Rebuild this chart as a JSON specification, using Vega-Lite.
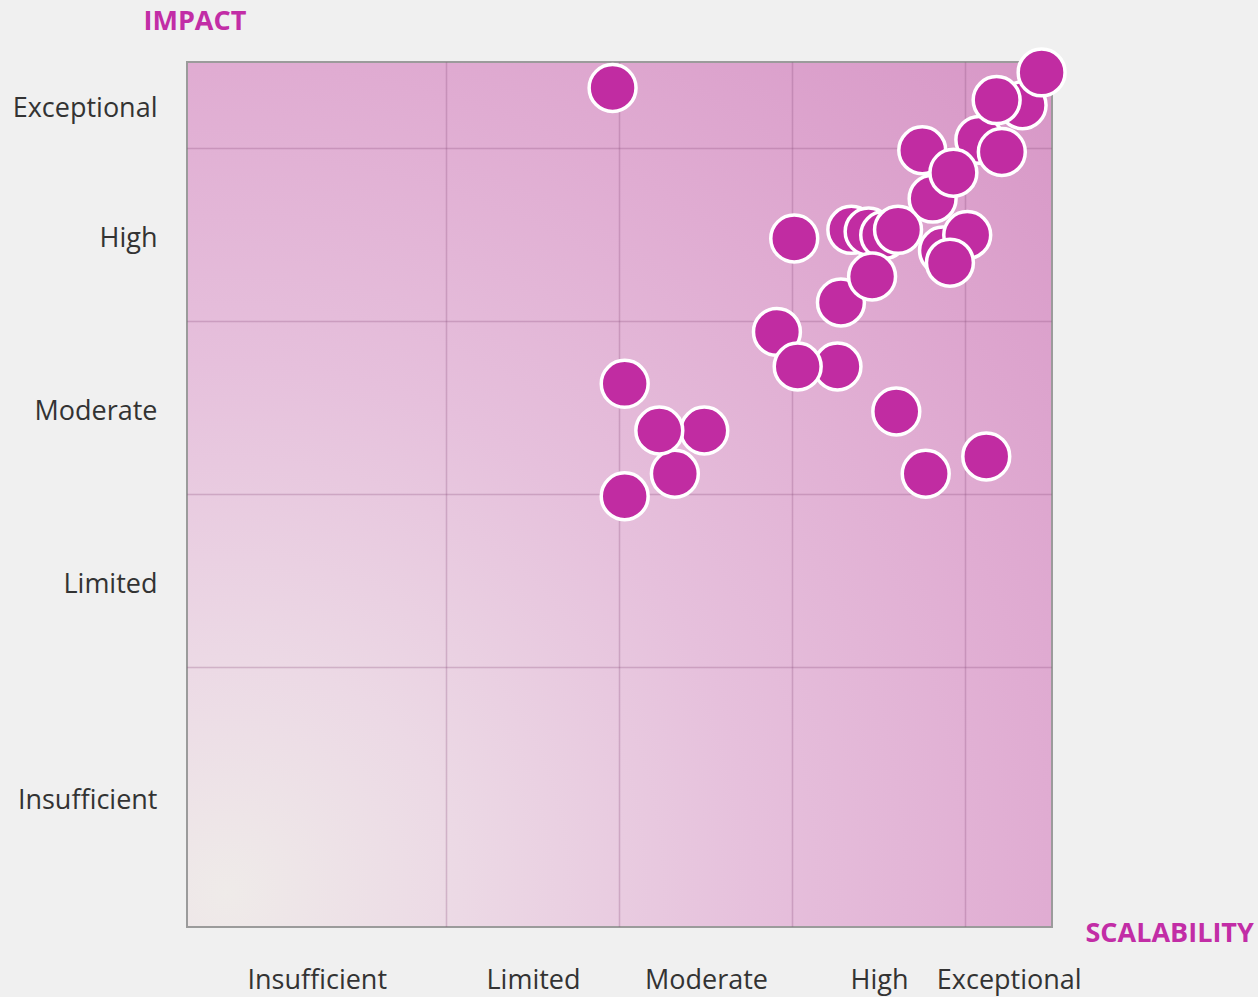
{
  "$schema": "https://vega.github.io/schema/vega-lite/v6.json",
  "width": 865,
  "height": 865,
  "autosize": "none",
  "padding": {"left": 187, "top": 62, "right": 206, "bottom": 70},
  "background": "#f0f0f0",
  "config": {"view": {"stroke": null}, "font": "Open Sans"},
  "datasets": {
    "bg": [{"x": 0, "x2": 5, "y": 0, "y2": 5}],
    "vgrid": [{"x": 1.5}, {"x": 2.5}, {"x": 3.5}, {"x": 4.5}],
    "hgrid": [{"y": 1.5}, {"y": 2.5}, {"y": 3.5}, {"y": 4.5}],
    "points": [
      {"x": 2.46, "y": 4.85},
      {"x": 4.58, "y": 4.55},
      {"x": 4.83, "y": 4.75},
      {"x": 4.68, "y": 4.78},
      {"x": 4.94, "y": 4.94},
      {"x": 4.71, "y": 4.48},
      {"x": 4.25, "y": 4.49},
      {"x": 4.31, "y": 4.21},
      {"x": 4.43, "y": 4.36},
      {"x": 4.37, "y": 3.91},
      {"x": 4.51, "y": 4.0},
      {"x": 4.41, "y": 3.84},
      {"x": 3.51, "y": 3.98},
      {"x": 3.84, "y": 4.03},
      {"x": 3.94, "y": 4.02},
      {"x": 4.03, "y": 4.0},
      {"x": 4.11, "y": 4.03},
      {"x": 3.78, "y": 3.61},
      {"x": 3.96, "y": 3.76},
      {"x": 3.41, "y": 3.44},
      {"x": 3.76, "y": 3.24},
      {"x": 3.53, "y": 3.24},
      {"x": 4.1, "y": 2.98},
      {"x": 4.27, "y": 2.62},
      {"x": 4.62, "y": 2.72},
      {"x": 2.53, "y": 3.14},
      {"x": 2.99, "y": 2.87},
      {"x": 2.82, "y": 2.62},
      {"x": 2.73, "y": 2.87},
      {"x": 2.53, "y": 2.49}
    ]
  },
  "layer": [
    {
      "data": {"name": "bg"},
      "mark": {
        "type": "rect",
        "stroke": "#9b9b9b",
        "strokeWidth": 2,
        "fill": {
          "gradient": "radial",
          "x1": 0.045, "y1": 0.96, "r1": 0,
          "x2": 0.045, "y2": 0.96, "r2": 1.36,
          "stops": [
            {"offset": 0, "color": "#efebe9"},
            {"offset": 0.2, "color": "#ecd9e5"},
            {"offset": 0.45, "color": "#e6c0dc"},
            {"offset": 0.7, "color": "#e0acd2"},
            {"offset": 1, "color": "#d796c6"}
          ]
        }
      },
      "encoding": {
        "x": {
          "field": "x", "type": "quantitative", "scale": {"domain": [0, 5], "nice": false, "zero": false},
          "axis": {
            "values": [0.75, 2, 3, 4, 4.75],
            "labelExpr": "datum.value == 0.75 ? 'Insufficient' : datum.value == 2 ? 'Limited' : datum.value == 3 ? 'Moderate' : datum.value == 4 ? 'High' : 'Exceptional'",
            "domain": false, "ticks": false, "grid": false,
            "labelPadding": 40, "labelFontSize": 27, "labelColor": "#333333", "labelFont": "Open Sans",
            "labelFlush": false, "labelOverlap": false,
            "title": "SCALABILITY", "titleX": 898, "titleY": 6, "titleAlign": "left", "titleBaseline": "middle",
            "titleFontSize": 27, "titleFontWeight": "bold", "titleColor": "#c22da6", "titleFont": "Open Sans"
          }
        },
        "x2": {"field": "x2"},
        "y": {
          "field": "y", "type": "quantitative", "scale": {"domain": [0, 5], "nice": false, "zero": false},
          "axis": {
            "values": [0.75, 2, 3, 4, 4.75],
            "labelExpr": "datum.value == 0.75 ? 'Insufficient' : datum.value == 2 ? 'Limited' : datum.value == 3 ? 'Moderate' : datum.value == 4 ? 'High' : 'Exceptional'",
            "domain": false, "ticks": false, "grid": false,
            "labelPadding": 30, "labelFontSize": 27, "labelColor": "#333333", "labelFont": "Open Sans",
            "labelFlush": false, "labelOverlap": false, "labelOffset": 3,
            "title": "IMPACT", "titleAngle": 0, "titleX": -44, "titleY": -41, "titleAlign": "left", "titleBaseline": "middle",
            "titleFontSize": 27, "titleFontWeight": "bold", "titleColor": "#c22da6", "titleFont": "Open Sans"
          }
        },
        "y2": {"field": "y2"}
      }
    },
    {
      "data": {"name": "vgrid"},
      "mark": {"type": "rule", "stroke": "#8a4a7a", "strokeOpacity": 0.28, "strokeWidth": 1.5},
      "encoding": {
        "x": {
          "field": "x", "type": "quantitative",
          "axis": {
            "values": [0.75, 2, 3, 4, 4.75],
            "labelExpr": "datum.value == 0.75 ? 'Insufficient' : datum.value == 2 ? 'Limited' : datum.value == 3 ? 'Moderate' : datum.value == 4 ? 'High' : 'Exceptional'",
            "domain": false, "ticks": false, "grid": false,
            "labelPadding": 40, "labelFontSize": 27, "labelColor": "#333333", "labelFont": "Open Sans",
            "labelFlush": false, "labelOverlap": false,
            "title": "SCALABILITY", "titleX": 898, "titleY": 6, "titleAlign": "left", "titleBaseline": "middle",
            "titleFontSize": 27, "titleFontWeight": "bold", "titleColor": "#c22da6", "titleFont": "Open Sans"
          }
        }
      }
    },
    {
      "data": {"name": "hgrid"},
      "mark": {"type": "rule", "stroke": "#8a4a7a", "strokeOpacity": 0.28, "strokeWidth": 1.5},
      "encoding": {
        "y": {
          "field": "y", "type": "quantitative",
          "axis": {
            "values": [0.75, 2, 3, 4, 4.75],
            "labelExpr": "datum.value == 0.75 ? 'Insufficient' : datum.value == 2 ? 'Limited' : datum.value == 3 ? 'Moderate' : datum.value == 4 ? 'High' : 'Exceptional'",
            "domain": false, "ticks": false, "grid": false,
            "labelPadding": 30, "labelFontSize": 27, "labelColor": "#333333", "labelFont": "Open Sans",
            "labelFlush": false, "labelOverlap": false, "labelOffset": 3,
            "title": "IMPACT", "titleAngle": 0, "titleX": -44, "titleY": -41, "titleAlign": "left", "titleBaseline": "middle",
            "titleFontSize": 27, "titleFontWeight": "bold", "titleColor": "#c22da6", "titleFont": "Open Sans"
          }
        }
      }
    },
    {
      "data": {"name": "points"},
      "mark": {"type": "circle", "size": 2200, "color": "#c12ca2", "opacity": 1, "stroke": "white", "strokeWidth": 3.5},
      "encoding": {
        "x": {
          "field": "x", "type": "quantitative",
          "axis": {
            "values": [0.75, 2, 3, 4, 4.75],
            "labelExpr": "datum.value == 0.75 ? 'Insufficient' : datum.value == 2 ? 'Limited' : datum.value == 3 ? 'Moderate' : datum.value == 4 ? 'High' : 'Exceptional'",
            "domain": false, "ticks": false, "grid": false,
            "labelPadding": 40, "labelFontSize": 27, "labelColor": "#333333", "labelFont": "Open Sans",
            "labelFlush": false, "labelOverlap": false,
            "title": "SCALABILITY", "titleX": 898, "titleY": 6, "titleAlign": "left", "titleBaseline": "middle",
            "titleFontSize": 27, "titleFontWeight": "bold", "titleColor": "#c22da6", "titleFont": "Open Sans"
          }
        },
        "y": {
          "field": "y", "type": "quantitative",
          "axis": {
            "values": [0.75, 2, 3, 4, 4.75],
            "labelExpr": "datum.value == 0.75 ? 'Insufficient' : datum.value == 2 ? 'Limited' : datum.value == 3 ? 'Moderate' : datum.value == 4 ? 'High' : 'Exceptional'",
            "domain": false, "ticks": false, "grid": false,
            "labelPadding": 30, "labelFontSize": 27, "labelColor": "#333333", "labelFont": "Open Sans",
            "labelFlush": false, "labelOverlap": false, "labelOffset": 3,
            "title": "IMPACT", "titleAngle": 0, "titleX": -44, "titleY": -41, "titleAlign": "left", "titleBaseline": "middle",
            "titleFontSize": 27, "titleFontWeight": "bold", "titleColor": "#c22da6", "titleFont": "Open Sans"
          }
        }
      }
    }
  ]
}
